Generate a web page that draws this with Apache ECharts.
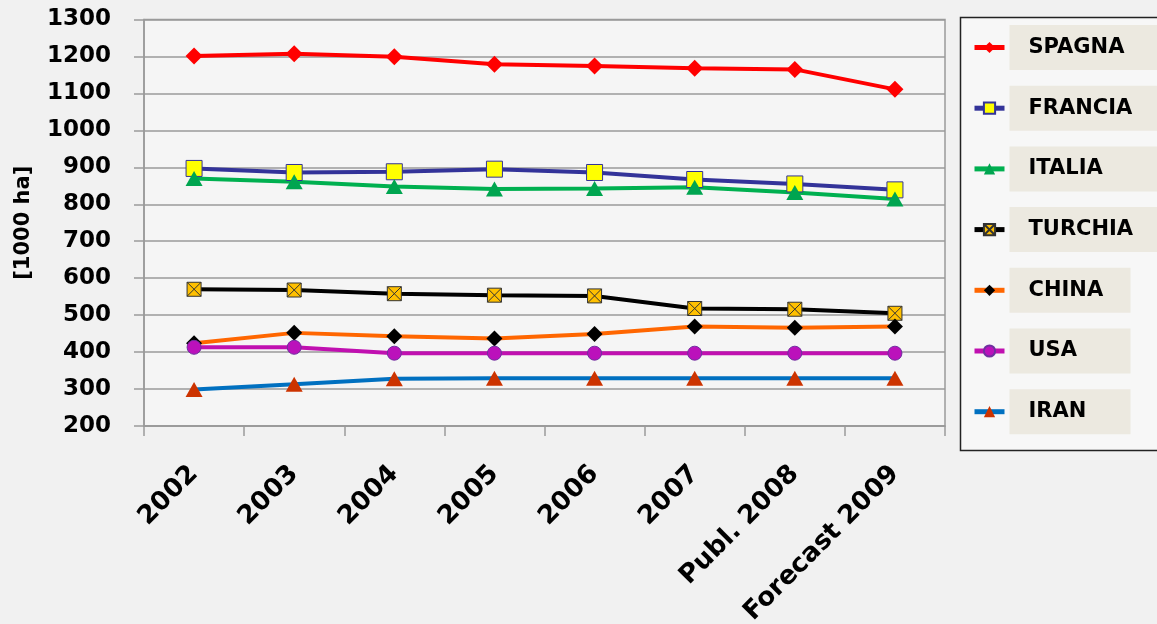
<!DOCTYPE html>
<html>
<head>
<meta charset="utf-8">
<script src="https://cdn.jsdelivr.net/npm/echarts@6/dist/echarts.min.js"></script>
<style>html,body{margin:0;padding:0;background:#f1f1f1;}#c{width:1157px;height:624px;}</style>
</head>
<body>
<div id="c"></div>
<script>
const categories = ['2002','2003','2004','2005','2006','2007','Publ. 2008','Forecast 2009'];
const yTicks = [200,300,400,500,600,700,800,900,1000,1100,1200,1300];
const spagna  = [1201,1207,1199,1179,1174,1168,1165,1111];
const francia = [897,886,888,895,886,867,855,839];
const italia  = [870,861,848,841,843,846,832,814];
const turchia = [570,568,558,554,552,518,516,505];
const china   = [424,452,443,437,449,469,466,469];
const usa     = [413,413,397,397,397,397,397,397];
const iran    = [299,313,328,329,329,329,329,329];

const FONT = '"DejaVu Sans", "Liberation Sans", Arial, sans-serif';
const xMark = 'path://M0,0L20,0L20,20L0,20Z M0,0L20,20 M20,0L0,20';

function mk(name, data, lineColor, symbol, size, fill, border, bw) {
  return {
    name, type: 'line', data,
    symbol, symbolSize: size,
    lineStyle: { color: lineColor, width: 4 },
    itemStyle: { color: fill, borderColor: border || fill, borderWidth: bw || 0 },
    color: lineColor,
    emphasis: { disabled: true },
    animation: false
  };
}

const longNames = ['SPAGNA','FRANCIA','ITALIA','TURCHIA'];
const chart = echarts.init(document.getElementById('c'));
chart.setOption({
  backgroundColor: '#f1f1f1',
  animation: false,
  grid: { left: 144, right: 212, top: 19.5, bottom: 198, show: true, containLabel: false, outerBoundsMode: 'none',
          backgroundColor: '#f5f5f5', borderColor: '#9a9a9a', borderWidth: 1.5 },
  graphic: [{
    type: 'rect', z: 0, shape: { x: 960.5, y: 17.5, width: 210, height: 433 },
    style: { fill: '#f7f7f7', stroke: '#222', lineWidth: 1.5 }
  }],
  legend: {
    orient: 'vertical', left: 972, top: 25, itemWidth: 30, itemHeight: 14, itemGap: 15.7,
    padding: 0, z: 5,
    lineStyle: { width: 5 },
    formatter: n => '{' + (longNames.includes(n) ? 'l' : 's') + '|' + n + '}',
    textStyle: {
      rich: {
        l: { fontFamily: FONT, fontWeight: 'bold', fontSize: 21, color: '#000', backgroundColor: '#ece9e0', padding: [12, 0, 12, 19], width: 160, lineHeight: 24 },
        s: { fontFamily: FONT, fontWeight: 'bold', fontSize: 21, color: '#000', backgroundColor: '#ece9e0', padding: [12, 0, 12, 19], width: 102, lineHeight: 24 }
      }
    }
  },
  xAxis: {
    type: 'category', data: categories, boundaryGap: true,
    axisLine: { lineStyle: { color: '#9a9a9a', width: 1.5 } },
    axisTick: { show: true, length: 10, lineStyle: { color: '#9a9a9a', width: 1.5 } },
    axisLabel: { rotate: 45, margin: 44, fontFamily: FONT, fontWeight: 'bold', fontSize: 26, color: '#000', interval: 0 }
  },
  yAxis: {
    type: 'value', min: 200, max: 1300, interval: 100,
    name: '[1000 ha]', nameLocation: 'middle', nameRotate: 90, nameGap: 110,
    nameTextStyle: { fontFamily: FONT, fontWeight: 'bold', fontSize: 21, color: '#000' },
    axisLine: { show: true, lineStyle: { color: '#9a9a9a', width: 1.5 } },
    axisTick: { show: true, length: 10, lineStyle: { color: '#9a9a9a', width: 1.5 } },
    axisLabel: { margin: 33, fontFamily: FONT, fontWeight: 'bold', fontSize: 23, color: '#000',
      formatter: v => yTicks.includes(v) ? String(v) : '' },
    splitLine: { lineStyle: { color: '#9a9a9a', width: 1.5 } }
  },
  series: [
    mk('SPAGNA', spagna, '#ff0000', 'diamond', 17, '#ff0000'),
    mk('FRANCIA', francia, '#333399', 'rect', 16, '#ffff00', '#333399', 1),
    mk('ITALIA', italia, '#00b050', 'triangle', [17, 15], '#00a550'),
    mk('TURCHIA', turchia, '#000000', xMark, 14, '#ffc000', '#333', 1),
    mk('CHINA', china, '#ff6600', 'diamond', 16, '#000000'),
    mk('USA', usa, '#c010b0', 'circle', 14, '#bb11bb', '#7030a0', 1),
    mk('IRAN', iran, '#0070c0', 'triangle', [17, 15], '#cc3300')
  ]
});
</script>
</body>
</html>
